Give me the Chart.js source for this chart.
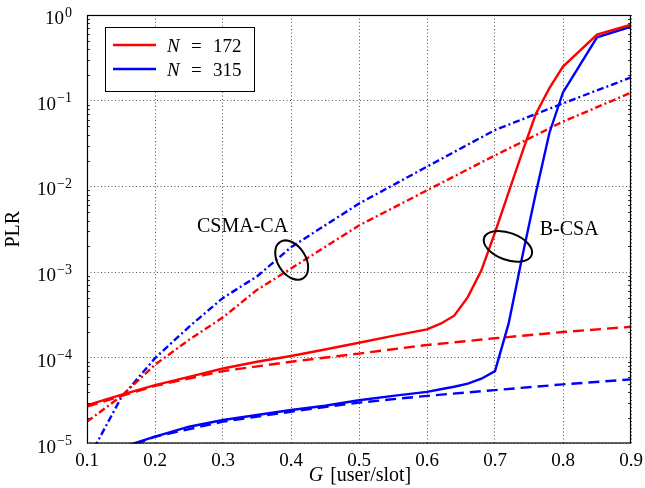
<!DOCTYPE html>
<html>
<head>
<meta charset="utf-8">
<script src="https://cdn.jsdelivr.net/npm/chart.js@4.4.1/dist/chart.umd.min.js"></script>
<style>
html, body { margin: 0; padding: 0; background: #fff; }
#wrap { width: 645px; height: 488px; position: relative; }
</style>
</head>
<body>
<div id="wrap"><canvas id="c"></canvas></div>
<script>
const serif = '"Liberation Serif", "DejaVu Serif", serif';

// B-CSA simulation (solid)
const gBcsa = [0.1, 0.15, 0.2, 0.25, 0.3, 0.35, 0.4, 0.45, 0.5, 0.55, 0.6, 0.62, 0.64, 0.66, 0.68, 0.7, 0.72, 0.74, 0.76, 0.78, 0.8, 0.85, 0.9];
const plrBcsa172 = [2.8e-5, 3.7e-5, 4.8e-5, 6.0e-5, 7.5e-5, 9.0e-5, 1.05e-4, 1.25e-4, 1.5e-4, 1.8e-4, 2.15e-4, 2.5e-4, 3.1e-4, 5.1e-4, 1.05e-3, 2.9e-3, 8.5e-3, 0.025, 0.07, 0.14, 0.25, 0.59, 0.77];
const plrBcsa315 = [6e-6, 9e-6, 1.2e-5, 1.57e-5, 1.88e-5, 2.15e-5, 2.46e-5, 2.76e-5, 3.2e-5, 3.6e-5, 4.0e-5, 4.3e-5, 4.6e-5, 5.0e-5, 5.7e-5, 7.0e-5, 2.5e-4, 1.5e-3, 8.3e-3, 0.042, 0.125, 0.55, 0.73];

// B-CSA analytical (dashed)
const gBound = [0.1, 0.2, 0.3, 0.4, 0.5, 0.6, 0.7, 0.8, 0.9];
const plrBound172 = [2.7e-5, 4.7e-5, 7.0e-5, 9.0e-5, 1.12e-4, 1.41e-4, 1.69e-4, 2.0e-4, 2.3e-4];
const plrBound315 = [6e-6, 1.2e-5, 1.8e-5, 2.35e-5, 3.0e-5, 3.6e-5, 4.2e-5, 4.9e-5, 5.6e-5];

// CSMA-CA (dash-dotted)
const gCsma = [0.1, 0.15, 0.2, 0.25, 0.3, 0.35, 0.4, 0.5, 0.6, 0.7, 0.8, 0.9];
const plrCsma172 = [1.8e-5, 3.55e-5, 8.3e-5, 1.62e-4, 2.97e-4, 6.2e-4, 1.1e-3, 3.5e-3, 9.0e-3, 0.023, 0.057, 0.124];
const plrCsma315 = [6.2e-6, 3.4e-5, 9.9e-5, 2.3e-4, 5.0e-4, 8.9e-4, 1.95e-3, 6.3e-3, 0.017, 0.0455, 0.093, 0.187];

const xTicks = [0.1, 0.2, 0.3, 0.4, 0.5, 0.6, 0.7, 0.8, 0.9];
const yDecades = [1e-5, 1e-4, 1e-3, 1e-2, 1e-1, 1];
const legendN = ['172', '315'];
const red = '#ff0000', blue = '#0000ff';

// labels placed in data coordinates (G, PLR at text baseline)
const notes = [
	{ text: 'CSMA-CA', g: 0.3287, plr: 2.96e-3 },
	{ text: 'B-CSA', g: 0.809, plr: 2.71e-3 }
];
const rings = [
	{ g: 0.401, plr: 1.38e-3, a: 21.5, b: 14, rot: 1.01 },
	{ g: 0.719, plr: 2.0e-3, a: 25.3, b: 13.5, rot: 0.35 }
];

const pts = (xs, ys) => xs.map((x, i) => ({ x: x, y: ys[i] }));

function line(data, colour, dash){
	return {
		data: data,
		borderColor: colour,
		borderWidth: 2.4,
		borderDash: dash,
		pointRadius: 0,
		fill: false,
		tension: 0,
		clip: 0
	};
}

const decor = {
	id: 'decor',
	afterDatasetsDraw(chart){
		const ctx = chart.ctx, ca = chart.chartArea;
		const y = chart.scales.y, x = chart.scales.x;
		let d, k, py;
		ctx.save();

		// frame
		ctx.strokeStyle = '#000';
		ctx.lineWidth = 1.2;
		ctx.strokeRect(ca.left + 0.5, ca.top + 0.5, ca.right - ca.left - 1, ca.bottom - ca.top - 1);

		// minor log ticks on both sides
		ctx.lineWidth = 0.8;
		ctx.beginPath();
		for(d = -5; d < 0; d++){
			for(k = 2; k <= 9; k++){
				py = Math.round(y.getPixelForValue(k * Math.pow(10, d))) + 0.5;
				ctx.moveTo(ca.left, py); ctx.lineTo(ca.left + 3, py);
				ctx.moveTo(ca.right, py); ctx.lineTo(ca.right - 3, py);
			}
		}
		ctx.stroke();

		// y tick labels 10^n
		ctx.fillStyle = '#000';
		ctx.textBaseline = 'alphabetic';
		ctx.textAlign = 'right';
		yDecades.forEach(v => {
			const e = Math.round(Math.log10(v));
			const sup = e === 0 ? '0' : '\u2212' + (-e);
			py = y.getPixelForValue(v);
			ctx.font = '14px ' + serif;
			ctx.fillText(sup, 72, py + 1.5);
			const w = ctx.measureText(sup).width;
			ctx.font = '19px ' + serif;
			ctx.fillText('10', 71 - w, py + 9);
		});

		// x title
		ctx.textAlign = 'left';
		ctx.font = 'italic 20px ' + serif;
		const wG = ctx.measureText('G').width;
		ctx.font = '20px ' + serif;
		const rest = ' [user/slot]';
		const wR = ctx.measureText(rest).width;
		const x0 = (ca.left + ca.right) / 2 - (wG + wR) / 2;
		ctx.font = 'italic 20px ' + serif;
		ctx.fillText('G', x0, 481);
		ctx.font = '20px ' + serif;
		ctx.fillText(rest, x0 + wG + 2, 481);

		// annotations
		ctx.textAlign = 'center';
		ctx.font = '20px ' + serif;
		notes.forEach(n => {
			ctx.fillText(n.text, x.getPixelForValue(n.g), y.getPixelForValue(n.plr));
		});
		ctx.lineWidth = 2;
		rings.forEach(r => {
			ctx.beginPath();
			ctx.ellipse(x.getPixelForValue(r.g), y.getPixelForValue(r.plr), r.a, r.b, r.rot, 0, Math.PI * 2);
			ctx.stroke();
		});

		// legend
		const bx = ca.left + 18, by = ca.top + 12, bw = 149, bh = 64;
		ctx.fillStyle = '#fff';
		ctx.fillRect(bx, by, bw, bh);
		ctx.lineWidth = 1;
		ctx.strokeStyle = '#000';
		ctx.strokeRect(bx + 0.5, by + 0.5, bw, bh);
		[red, blue].forEach((c, i) => {
			const ly = by + 18 + i * 24;
			ctx.strokeStyle = c;
			ctx.lineWidth = 2.4;
			ctx.beginPath();
			ctx.moveTo(bx + 8, ly); ctx.lineTo(bx + 51, ly);
			ctx.stroke();
			ctx.fillStyle = '#000';
			ctx.textAlign = 'left';
			ctx.font = 'italic 19px ' + serif;
			ctx.fillText('N', bx + 62, ly + 7);
			ctx.font = '19px ' + serif;
			ctx.fillText('=', bx + 86, ly + 7);
			ctx.fillText(legendN[i], bx + 108, ly + 7);
		});
		ctx.restore();
	}
};

new Chart(document.getElementById('c'), {
	type: 'line',
	data: {
		datasets: [
			line(pts(gBcsa, plrBcsa172), red, []),
			line(pts(gBcsa, plrBcsa315), blue, []),
			line(pts(gBound, plrBound172), red, [11, 6]),
			line(pts(gBound, plrBound315), blue, [11, 6]),
			line(pts(gCsma, plrCsma172), red, [7, 3, 2, 3]),
			line(pts(gCsma, plrCsma315), blue, [7, 3, 2, 3])
		]
	},
	options: {
		responsive: true,
		maintainAspectRatio: false,
		animation: false,
		layout: { padding: { left: 0, top: 15, right: 14, bottom: 0 } },
		plugins: { legend: { display: false }, tooltip: { enabled: false } },
		scales: {
			x: {
				type: 'linear',
				min: 0.1,
				max: 0.9,
				afterBuildTicks: s => { s.ticks = xTicks.map(v => ({ value: v })); },
				afterFit: s => { s.height = 44.5; s.paddingLeft = 0; s.paddingRight = 0; },
				ticks: {
					autoSkip: false,
					maxRotation: 0,
					padding: 6,
					color: '#000',
					font: { family: serif, size: 19 },
					callback: v => Number(v).toFixed(1)
				},
				grid: { color: '#555', lineWidth: 1, drawTicks: false },
				border: { display: false, dash: [1, 2.5] }
			},
			y: {
				type: 'logarithmic',
				min: 1e-5,
				max: 1,
				afterBuildTicks: s => { s.ticks = yDecades.map(v => ({ value: v })); },
				afterFit: s => { s.width = 87; s.paddingTop = 0; s.paddingBottom = 0; },
				ticks: { display: false },
				grid: { color: '#555', lineWidth: 1, drawTicks: false },
				border: { display: false, dash: [1, 2.5] },
				title: {
					display: true,
					text: 'PLR',
					color: '#000',
					font: { family: serif, size: 20 },
					padding: { top: 2, bottom: 0 }
				}
			}
		}
	},
	plugins: [decor]
});
</script>
</body>
</html>
